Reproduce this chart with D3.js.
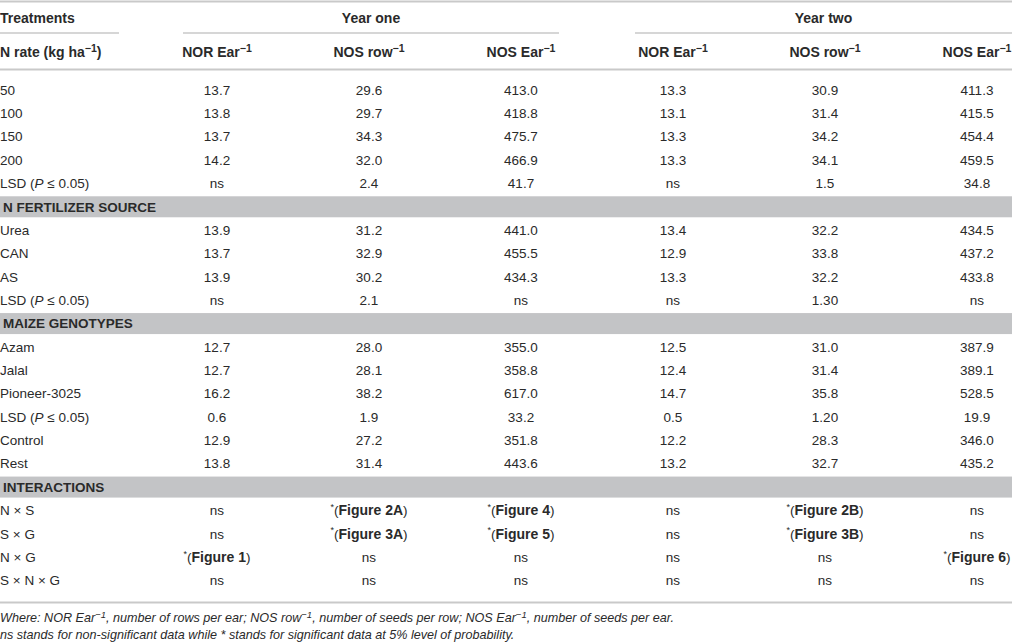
<!DOCTYPE html>
<html>
<head>
<meta charset="utf-8">
<script src="https://cdn.jsdelivr.net/npm/d3@7"></script>
<style>
  body { margin: 0; background: #fff; }
  svg { display: block; font-family: "Liberation Sans", Arial, sans-serif; }
</style>
</head>
<body>
<svg id="table" width="1012" height="644"></svg>
<script>
// Row labels, one list per block of the table
var nRateRows = ["50", "100", "150", "200", "LSD"];
var sourceRows = ["Urea", "CAN", "AS", "LSD"];
var genotypeRows = ["Azam", "Jalal", "Pioneer-3025", "LSD", "Control", "Rest"];
var interactionRows = ["N × S", "S × G", "N × G", "S × N × G"];
var sectionTitles = ["N FERTILIZER SOURCE", "MAIZE GENOTYPES", "INTERACTIONS"];

var years = ["Year one", "Year two"];
var traits = ["NOR Ear", "NOS row", "NOS Ear"];

// Values per column ("*Figure x" = significant, see figure)
var y1NorEar = ["13.7", "13.8", "13.7", "14.2", "ns",
  "13.9", "13.7", "13.9", "ns",
  "12.7", "12.7", "16.2", "0.6", "12.9", "13.8",
  "ns", "ns", "*Figure 1", "ns"];
var y1NosRow = ["29.6", "29.7", "34.3", "32.0", "2.4",
  "31.2", "32.9", "30.2", "2.1",
  "28.0", "28.1", "38.2", "1.9", "27.2", "31.4",
  "*Figure 2A", "*Figure 3A", "ns", "ns"];
var y1NosEar = ["413.0", "418.8", "475.7", "466.9", "41.7",
  "441.0", "455.5", "434.3", "ns",
  "355.0", "358.8", "617.0", "33.2", "351.8", "443.6",
  "*Figure 4", "*Figure 5", "ns", "ns"];
var y2NorEar = ["13.3", "13.1", "13.3", "13.3", "ns",
  "13.4", "12.9", "13.3", "ns",
  "12.5", "12.4", "14.7", "0.5", "12.2", "13.2",
  "ns", "ns", "ns", "ns"];
var y2NosRow = ["30.9", "31.4", "34.2", "34.1", "1.5",
  "32.2", "33.8", "32.2", "1.30",
  "31.0", "31.4", "35.8", "1.20", "28.3", "32.7",
  "*Figure 2B", "*Figure 3B", "ns", "ns"];
var y2NosEar = ["411.3", "415.5", "454.4", "459.5", "34.8",
  "434.5", "437.2", "433.8", "ns",
  "387.9", "389.1", "528.5", "19.9", "346.0", "435.2",
  "ns", "ns", "*Figure 6", "ns"];

var columns = [y1NorEar, y1NosRow, y1NosEar, y2NorEar, y2NosRow, y2NosEar];

var W = 1012;
var ink = "#2a2a2a", rule = "#c9c9c9", band = "#c3c4c6";
var svg = d3.select("#table");

// flatten blocks into one list of rows, section titles between blocks
var blocks = [nRateRows, sourceRows, genotypeRows, interactionRows];
var rows = [], k = 0;
blocks.forEach(function (b, bi) {
  if (bi > 0) rows.push({ section: sectionTitles[bi - 1] });
  b.forEach(function (lab) { rows.push({ label: lab, idx: k++ }); });
});

var y = d3.scalePoint().domain(d3.range(rows.length)).range([90, 580.5]);
var x = d3.scalePoint().domain(d3.range(columns.length)).range([217, 977]);
var yearSpan = [[183, 559], [635, W]];

// grey section bands
svg.selectAll("rect.band")
  .data(rows.filter(function (r) { return r.section; }))
  .enter().append("rect")
  .attr("x", 0).attr("width", W)
  .attr("y", function (d) { return y(rows.indexOf(d)) - 10.5; })
  .attr("height", 21)
  .attr("fill", band);

// rules
function hline(x1, x2, yy, w) {
  svg.append("line").attr("x1", x1).attr("x2", x2).attr("y1", yy).attr("y2", yy)
    .attr("stroke", rule).attr("stroke-width", w);
}
hline(0, W, 1.5, 2);
hline(0, 119, 33, 1.5);
yearSpan.forEach(function (s) { hline(s[0], s[1], 33, 1.5); });
hline(0, W, 69.5, 2);
hline(0, W, 602.5, 2);

var fs = 13.5, fb = 14;

function sup(t, s) {
  t.append("tspan").attr("font-size", 10.5).attr("dy", -5).text(s);
}

// header row 1
svg.append("text").attr("x", 0).attr("y", 18).attr("dy", "0.35em")
  .attr("font-size", fb).attr("font-weight", "bold").attr("fill", ink)
  .text("Treatments");
svg.selectAll("text.year").data(years).enter().append("text")
  .attr("class", "year")
  .attr("x", function (d, i) { return (yearSpan[i][0] + yearSpan[i][1]) / 2; })
  .attr("y", 18).attr("dy", "0.35em")
  .attr("text-anchor", "middle").attr("font-size", fb).attr("font-weight", "bold")
  .attr("fill", ink).text(function (d) { return d; });

// header row 2
var nr = svg.append("text").attr("x", 0).attr("y", 52).attr("dy", "0.35em")
  .attr("font-size", fb).attr("font-weight", "bold").attr("fill", ink);
nr.append("tspan").text("N rate (kg ha");
sup(nr, "−1");
nr.append("tspan").attr("dy", 5).text(")");

columns.forEach(function (c, i) {
  var t = svg.append("text").attr("x", x(i)).attr("y", 52).attr("dy", "0.35em")
    .attr("text-anchor", "middle").attr("font-size", fb).attr("font-weight", "bold")
    .attr("fill", ink);
  t.append("tspan").text(traits[i % 3]);
  sup(t, "−1");
});

// body rows
rows.forEach(function (r, ri) {
  var yy = y(ri);
  if (r.section) {
    svg.append("text").attr("x", 3).attr("y", yy).attr("dy", "0.35em")
      .attr("font-size", fs).attr("font-weight", "bold").attr("fill", ink)
      .text(r.section);
    return;
  }
  var lt = svg.append("text").attr("x", 0).attr("y", yy).attr("dy", "0.35em")
    .attr("font-size", fs).attr("fill", ink);
  if (r.label === "LSD") {
    lt.append("tspan").text("LSD (");
    lt.append("tspan").attr("font-style", "italic").text("P");
    lt.append("tspan").text(" ≤ 0.05)");
  } else {
    lt.text(r.label);
  }
  columns.forEach(function (c, ci) {
    var v = c[r.idx];
    var t = svg.append("text").attr("x", x(ci)).attr("y", yy).attr("dy", "0.35em")
      .attr("text-anchor", "middle").attr("font-size", fs).attr("fill", ink);
    if (v.charAt(0) === "*") {
      t.append("tspan").attr("font-size", 9).attr("dy", "-0.05em").text("*");
      t.append("tspan").attr("dy", "0.4em").text("(");
      t.append("tspan").attr("font-weight", "bold").attr("font-size", fb).text(v.slice(1));
      t.append("tspan").text(")");
    } else {
      t.text(v);
    }
  });
});

// footnotes
var fn = 12.6;
var f1 = svg.append("text").attr("x", 0).attr("y", 618).attr("dy", "0.35em")
  .attr("font-size", fn).attr("font-style", "italic").attr("fill", ink);
f1.append("tspan").text("Where: NOR Ear");
f1.append("tspan").attr("font-size", 9.5).attr("dy", -4).text("−1");
f1.append("tspan").attr("dy", 4).text(", number of rows per ear; NOS row");
f1.append("tspan").attr("font-size", 9.5).attr("dy", -4).text("−1");
f1.append("tspan").attr("dy", 4).text(", number of seeds per row; NOS Ear");
f1.append("tspan").attr("font-size", 9.5).attr("dy", -4).text("−1");
f1.append("tspan").attr("dy", 4).text(", number of seeds per ear.");

svg.append("text").attr("x", 0).attr("y", 635).attr("dy", "0.35em")
  .attr("font-size", fn).attr("font-style", "italic").attr("fill", ink)
  .text("ns stands for non-significant data while * stands for significant data at 5% level of probability.");
</script>
</body>
</html>
